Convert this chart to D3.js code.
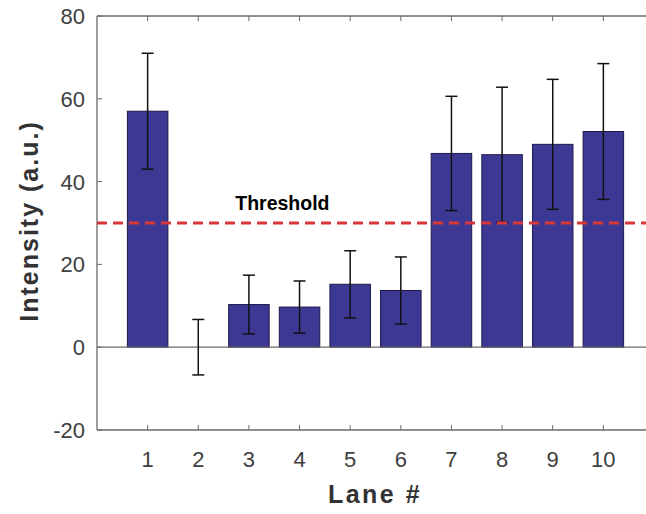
<!DOCTYPE html>
<html>
<head>
<meta charset="utf-8">
<script src="https://cdn.jsdelivr.net/npm/d3@7"></script>
<style>
  body { margin: 0; background: #fff; }
  svg { display: block; font-family: "Liberation Sans", Arial, sans-serif; }
</style>
</head>
<body>
<div id="chart"></div>
<script>
var lanes = [1, 2, 3, 4, 5, 6, 7, 8, 9, 10];
var intensity = [57, 0, 10.3, 9.7, 15.2, 13.7, 46.8, 46.5, 49, 52.1];
var errors = [14, 6.7, 7.1, 6.3, 8.1, 8.1, 13.8, 16.3, 15.7, 16.4];
var yTicks = [-20, 0, 20, 40, 60, 80];
var threshold = 30;

var width = 646, height = 514;
var plotL = 97, plotT = 16, plotR = 654, plotB = 430;

var svg = d3.select('#chart')
            .append('svg')
            .attr('width', width)
            .attr('height', height);

var x = d3.scaleLinear().domain([0, 11]).range([plotL, plotR]);
var y = d3.scaleLinear().domain([-20, 80]).range([plotB, plotT]);
var barW = (x(1) - x(0)) * 0.8;
var axisColor = '#6a6a6a';

// bars
svg.selectAll('.bar')
   .data(intensity)
   .enter()
   .append('rect')
   .attr('x', function(d, i){return x(lanes[i]) - barW / 2;})
   .attr('y', function(d){return y(Math.max(d, 0));})
   .attr('width', barW)
   .attr('height', function(d){return Math.abs(y(d) - y(0));})
   .style('fill', '#3d3894')
   .style('stroke', '#1c1a4a')
   .style('stroke-width', 1);

// plot box
[[plotL, plotT, plotR, plotT], [plotL, plotB, plotR, plotB], [plotL, plotT, plotL, plotB], [plotL, y(0), plotR, y(0)]]
   .forEach(function(l) {
      svg.append('line')
         .attr('x1', l[0]).attr('y1', l[1]).attr('x2', l[2]).attr('y2', l[3])
         .style('stroke', axisColor).style('stroke-width', 1.3);
   });

// inward ticks, top and bottom
lanes.forEach(function(d) {
   svg.append('line')
      .attr('x1', x(d)).attr('x2', x(d)).attr('y1', plotB).attr('y2', plotB - 5)
      .style('stroke', axisColor);
   svg.append('line')
      .attr('x1', x(d)).attr('x2', x(d)).attr('y1', plotT).attr('y2', plotT + 5)
      .style('stroke', axisColor);
});
yTicks.forEach(function(d) {
   svg.append('line')
      .attr('x1', plotL).attr('x2', plotL + 5).attr('y1', y(d)).attr('y2', y(d))
      .style('stroke', axisColor);
});

// tick labels
svg.selectAll('.xlab')
   .data(lanes)
   .enter()
   .append('text')
   .attr('x', function(d){return x(d);})
   .attr('y', 467)
   .attr('text-anchor', 'middle')
   .style('font-size', '22px')
   .style('fill', '#404040')
   .text(function(d){return d;});

svg.selectAll('.ylab')
   .data(yTicks)
   .enter()
   .append('text')
   .attr('x', plotL - 12)
   .attr('y', function(d){return y(d);})
   .attr('dy', '0.36em')
   .attr('text-anchor', 'end')
   .style('font-size', '22px')
   .style('fill', '#404040')
   .text(function(d){return d;});

// error bars
intensity.forEach(function(d, i) {
   var cx = x(lanes[i]);
   var g = svg.append('g').style('stroke', '#111').style('stroke-width', 1.5);
   g.append('line')
    .attr('x1', cx).attr('x2', cx).attr('y1', y(d + errors[i])).attr('y2', y(d - errors[i]));
   g.append('line')
    .attr('x1', cx - 6).attr('x2', cx + 6).attr('y1', y(d + errors[i])).attr('y2', y(d + errors[i]));
   g.append('line')
    .attr('x1', cx - 6).attr('x2', cx + 6).attr('y1', y(d - errors[i])).attr('y2', y(d - errors[i]));
});

// threshold
svg.append('line')
   .attr('x1', plotL).attr('x2', plotR).attr('y1', y(threshold)).attr('y2', y(threshold))
   .style('stroke', '#d9363a')
   .style('stroke-width', 3)
   .style('stroke-dasharray', '10, 6');

svg.append('text')
   .attr('x', x(2.73))
   .attr('y', y(threshold) - 13)
   .style('font-size', '19.5px')
   .style('font-weight', 'bold')
   .style('fill', '#000')
   .text('Threshold');

// axis titles
svg.append('text')
   .attr('x', 375)
   .attr('y', 503)
   .attr('text-anchor', 'middle')
   .style('font-size', '25px')
   .style('letter-spacing', '2.5px')
   .style('font-weight', 'bold')
   .style('fill', '#333')
   .text('Lane #');

svg.append('text')
   .attr('transform', 'translate(38,221) rotate(-90)')
   .attr('text-anchor', 'middle')
   .style('font-size', '25px')
   .style('letter-spacing', '2px')
   .style('font-weight', 'bold')
   .style('fill', '#333')
   .text('Intensity (a.u.)');
</script>
</body>
</html>
